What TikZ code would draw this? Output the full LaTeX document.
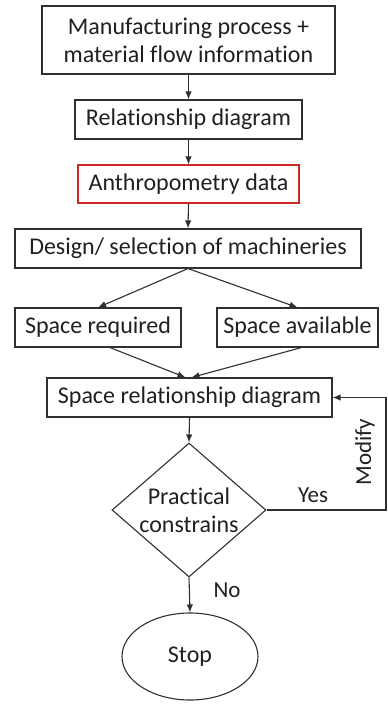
\documentclass[tikz,border=0pt]{standalone}
\usepackage{fontspec}
\setmainfont{Carlito}[Ligatures=NoCommon]
\usetikzlibrary{shapes.geometric,arrows.meta}
\definecolor{ln}{HTML}{303030}
\definecolor{rd}{HTML}{D02828}
\definecolor{tx}{HTML}{202020}
\begin{document}
\begin{tikzpicture}[x=1pt,y=-1pt,
  base/.style={line width=1.1pt,rectangle,inner sep=0pt,align=center,text=tx,
    font=\fontsize{24}{28}\selectfont},
  box/.style={base,draw=ln},
  redbox/.style={base,draw=rd},
  arr/.style={draw=ln,line width=1.1pt,-{Latex[length=8pt,width=6.5pt]}},
  lbl/.style={font=\fontsize{23}{26}\selectfont,inner sep=0pt,text=tx}]
\fill[white] (0,0) rectangle (388,705);
\useasboundingbox (0,0) rectangle (388,705);
\node[box,minimum width=293pt,minimum height=68pt] (b1) at (188.5,40) {Manufacturing process +\\material flow information};
\node[box,minimum width=227pt,minimum height=39pt] (b2) at (188.5,119.5) {Relationship diagram};
\node[redbox,minimum width=221pt,minimum height=38pt] (b3) at (188.5,184) {Anthropometry data};
\node[box,minimum width=346pt,minimum height=39pt] (b4) at (188,248.5) {Design/ selection of machineries};
\node[box,minimum width=166pt,minimum height=39pt] (sr) at (98,327.5) {Space required};
\node[box,minimum width=161pt,minimum height=39pt] (sa) at (297.5,327.5) {Space available};
\node[box,minimum width=285pt,minimum height=39pt] (srd) at (189.5,397.5) {Space relationship diagram};
\node[box,shape=diamond,aspect=1.15,minimum width=154pt,minimum height=134pt] (dia) at (189,510) {Practical\\constrains};
\node[box,shape=ellipse,minimum width=136pt,minimum height=87pt] (ell) at (190,656.5) {Stop};
\coordinate (loop) at (386,510);
\draw[arr] (b1.south) -- (b2.north);
\draw[arr] (b2.south) -- (b3.north);
\draw[arr] (b3.south) -- (b4.north);
\draw[arr] (b4.south) -- (sr.north);
\draw[arr] (b4.south) -- (sa.north);
\draw[arr] ([xshift=12pt]sr.south) -- ([xshift=-4pt]srd.north);
\draw[arr] ([xshift=4pt]sa.south) -- ([xshift=2pt]srd.north);
\draw[arr] (srd.south) -- (dia.north);
\draw[arr] (dia.south) -- (ell.north);
\draw[arr] (dia.east) -- (loop) |- (srd.east);
\node[lbl] (yes) at (313,495) {Yes};
\node[lbl] (no) at (227,590) {No};
\node[lbl,rotate=90] (mod) at (365,452) {Modify};
\end{tikzpicture}
\end{document}
